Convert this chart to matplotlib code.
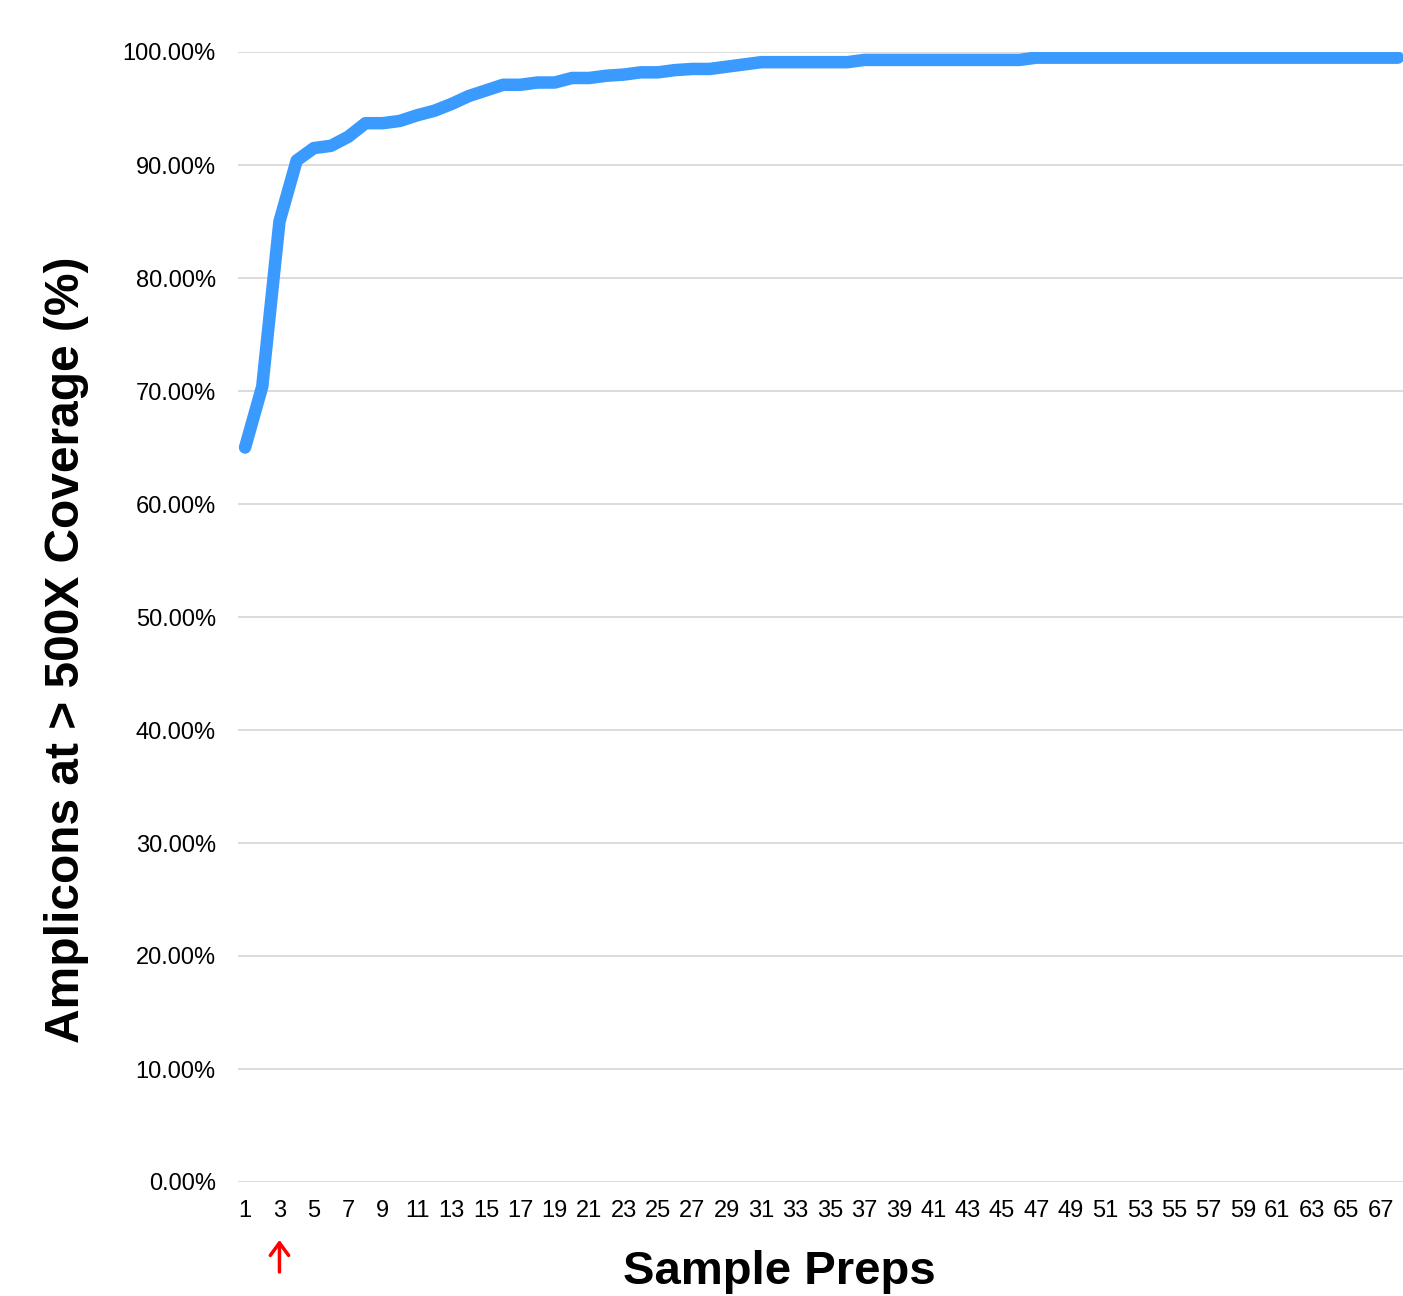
import numpy as np
import matplotlib as mpl
mpl.use('Agg')
import matplotlib.pyplot as plt
from matplotlib.ticker import FuncFormatter

mpl.rcParams['font.family'] = ['Liberation Sans', 'DejaVu Sans']

# coverage (%) for each cumulative sample prep
preps = np.arange(1, 69)
coverage = [
    65.0, 70.4, 85.0, 90.4, 91.5, 91.7, 92.5, 93.7, 93.7, 93.9,
    94.4, 94.8, 95.4, 96.1, 96.6, 97.1, 97.1, 97.3, 97.3, 97.7,
    97.7, 97.9, 98.0, 98.2, 98.2, 98.4, 98.5, 98.5, 98.7, 98.9,
    99.1, 99.1, 99.1, 99.1, 99.1, 99.1, 99.3, 99.3, 99.3, 99.3,
    99.3, 99.3, 99.3, 99.3, 99.3, 99.3, 99.5, 99.5, 99.5, 99.5,
    99.5, 99.5, 99.5, 99.5, 99.5, 99.5, 99.5, 99.5, 99.5, 99.5,
    99.5, 99.5, 99.5, 99.5, 99.5, 99.5, 99.5, 99.5,
]
y_ticks = np.arange(0, 101, 10)
x_ticks = np.arange(1, 68, 2)
marked_prep = 3

fig = plt.figure(figsize=(14.03, 12.96), dpi=100)
ax = fig.add_axes([238 / 1403, 1 - 1182 / 1296, 1 - 238 / 1403, (1182 - 52) / 1296])

ax.plot(preps, coverage, color='#3A9AFE', lw=9,
        solid_capstyle='round', solid_joinstyle='round', zorder=3)

ax.set_ylim(0, 100)
ax.set_xlim(0.59, 68.3)
ax.set_yticks(y_ticks)
ax.set_xticks(x_ticks)
ax.yaxis.set_major_formatter(FuncFormatter(lambda v, p: '{0:.2f}%'.format(v)))
ax.tick_params(axis='both', length=0, labelsize=17, colors='black')
ax.tick_params(axis='y', pad=16)
ax.tick_params(axis='x', pad=13)
ax.grid(axis='y', color='#d9d9d9', lw=1.3)
ax.set_axisbelow(True)
for s in ax.spines.values():
    s.set_visible(False)

fig.text(67 / 1403, 1 - 650 / 1296, 'Amplicons at > 500X Coverage (%)',
         fontsize=34.5, fontweight='bold', rotation=90, ha='center', va='center')
fig.text(779 / 1403, 1 - 1272 / 1296, 'Sample Preps', fontsize=34,
         fontweight='bold', ha='center', va='center')

# red arrow below prep 3
ax.annotate('', xy=(marked_prep, -0.0513), xytext=(marked_prep, -0.0796),
            xycoords=('data', 'axes fraction'),
            textcoords=('data', 'axes fraction'),
            arrowprops=dict(arrowstyle='->,head_length=0.45,head_width=0.33',
                            color='red', lw=2.5, mutation_scale=20,
                            shrinkA=0, shrinkB=0),
            annotation_clip=False)

fig.savefig('out.png', dpi=100)
